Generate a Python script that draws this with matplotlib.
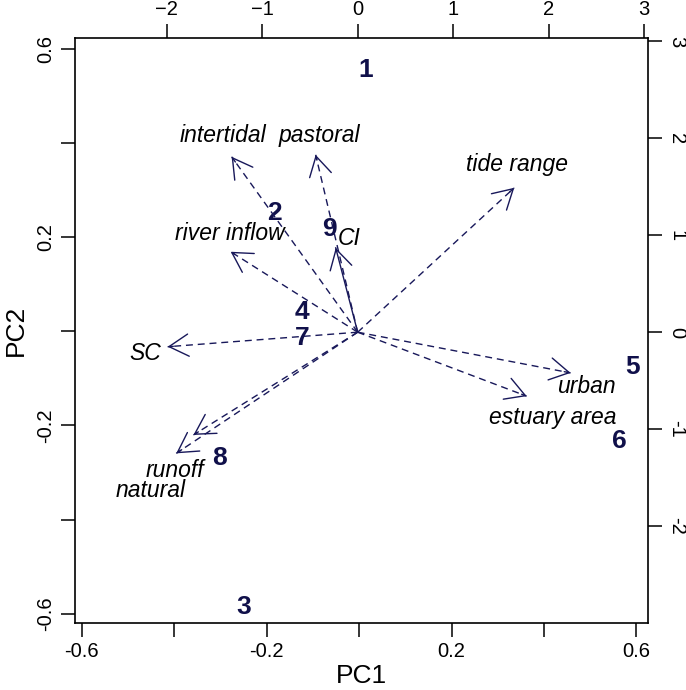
import numpy as np
import matplotlib
matplotlib.use("Agg")
import matplotlib.pyplot as plt

plt.rcParams['font.family'] = ['Liberation Sans', 'DejaVu Sans']

# site scores (PC1, PC2)
sites = ['1', '2', '3', '4', '5', '6', '7', '8', '9']
pc1 = [0.014, -0.184, -0.249, -0.123, 0.591, 0.562, -0.123, -0.303, -0.065]
pc2 = [0.556, 0.251, -0.585, 0.042, -0.076, -0.233, -0.014, -0.270, 0.217]

# variable loadings (top / right axes)
variables = ['intertidal', 'pastoral', 'river inflow', 'CI', 'SC',
             'tide range', 'urban', 'estuary area', 'runoff', 'natural']
load1 = [-1.32, -0.44, -1.33, -0.23, -1.99, 1.64, 2.23, 1.77, -1.72, -1.90]
load2 = [1.81, 1.83, 0.83, 0.87, -0.15, 1.49, -0.42, -0.66, -1.06, -1.25]
# where the variable names sit
lab1 = [-1.41, -0.40, -1.34, -0.09, -2.22, 1.67, 2.39, 2.04, -1.91, -2.17]
lab2 = [2.03, 2.03, 1.02, 0.97, -0.22, 1.73, -0.56, -0.88, -1.43, -1.63]

navy = '#18185a'
dark = '#10104a'

fig = plt.figure(figsize=(6.86, 6.90), dpi=100)
pos = [75 / 686, 1 - 623 / 690, 573 / 686, 585 / 690]
ax = fig.add_axes(pos)
ax2 = fig.add_axes(pos, frameon=False)

ax.set_xlim(-0.615, 0.625)
ax.set_ylim(-0.62, 0.624)
ax2.set_xlim(-2.96, 3.04)
ax2.set_ylim(-3.0, 3.035)

for s in ax.spines.values():
    s.set_linewidth(1.2)

ax.set_xticks([-0.6, -0.4, -0.2, 0, 0.2, 0.4, 0.6])
ax.set_xticklabels(['-0.6', '', '-0.2', '', '0.2', '', '0.6'])
ax.set_yticks([-0.6, -0.4, -0.2, 0, 0.2, 0.4, 0.6])
ax.set_yticklabels(['-0.6', '', '-0.2', '', '0.2', '', '0.6'],
                   rotation=90, va='center')
ax.tick_params(length=10, width=1.1, labelsize=14.5, pad=4)
ax.set_xlabel('PC1', fontsize=19, labelpad=2)
ax.set_ylabel('PC2', fontsize=19, labelpad=6)

ax2.xaxis.tick_top()
ax2.yaxis.tick_right()
ax2.set_xticks([-2, -1, 0, 1, 2, 3])
ax2.set_yticks([-2, -1, 0, 1, 2, 3])
ax2.set_yticklabels(['-2', '-1', '0', '1', '2', '3'], rotation=-90, va='center')
ax2.tick_params(length=10, width=1.1, labelsize=14.5, pad=4)

# site numbers
for s, x, y in zip(sites, pc1, pc2):
    ax.text(x, y, s, color=dark, fontsize=19, fontweight='bold',
            ha='center', va='center')

# loading arrows
for v, x, y in zip(variables, load1, load2):
    ls = '-' if v == 'CI' else (0, (5, 3.5))
    ax2.plot([0, x], [0, y], color=navy, lw=1, linestyle=ls)
    ax2.annotate('', xy=(x, y), xytext=(x * 0.97, y * 0.97),
                 arrowprops=dict(arrowstyle='->,head_length=1.4,head_width=0.8',
                                 color=navy, lw=1, shrinkA=0, shrinkB=0,
                                 mutation_scale=10))

for v, x, y in zip(variables, lab1, lab2):
    ax2.text(x, y, v, fontsize=16.5, style='italic', ha='center', va='center')

fig.savefig('out.png', dpi=100)
